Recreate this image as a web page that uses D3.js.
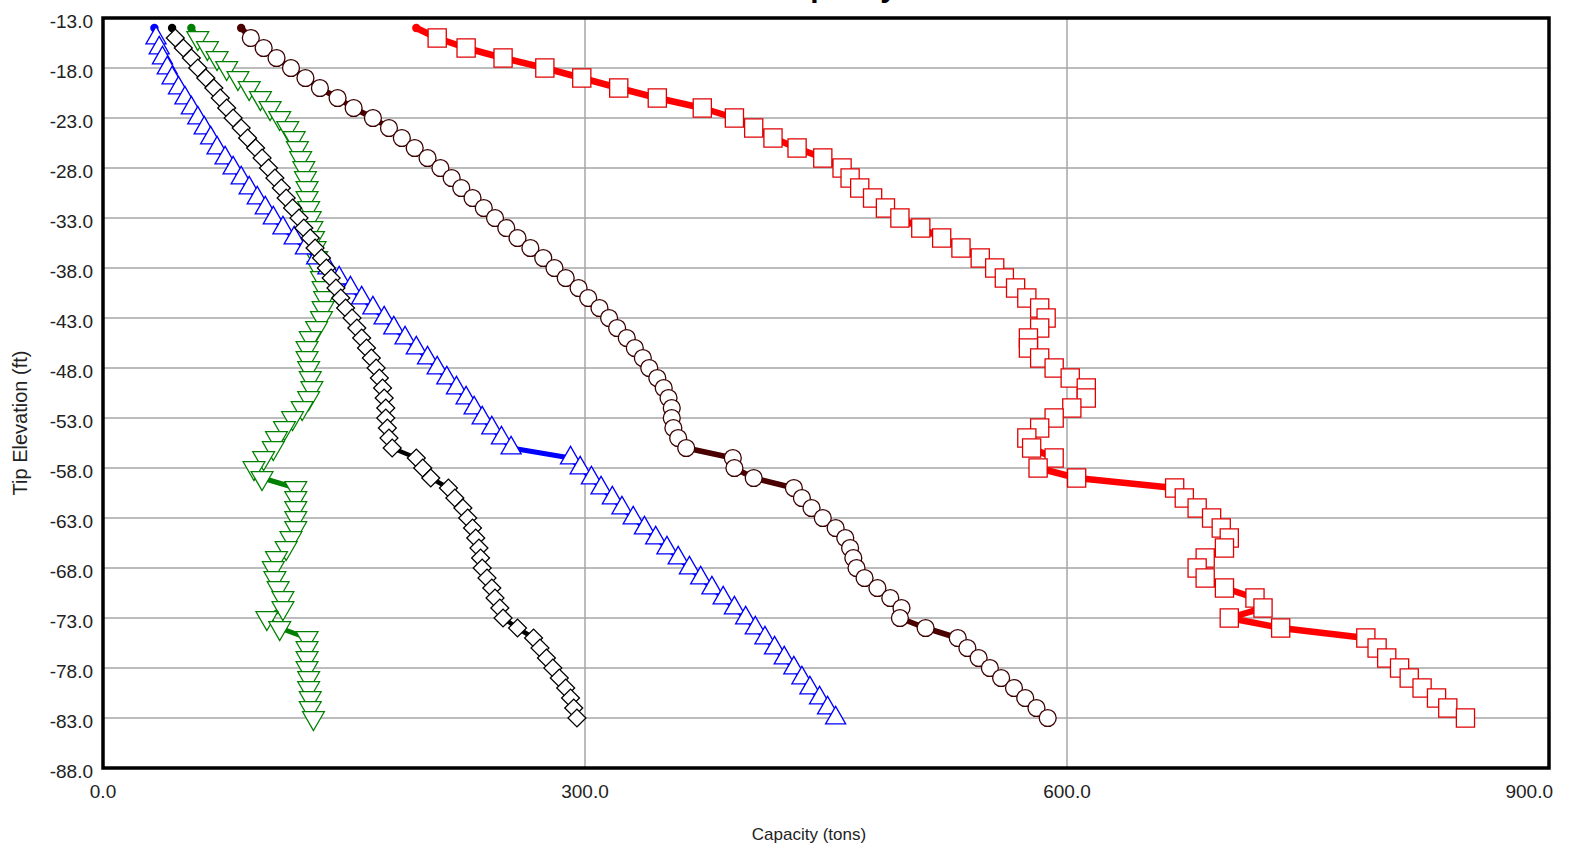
<!DOCTYPE html>
<html><head><meta charset="utf-8">
<script src="https://cdn.jsdelivr.net/npm/d3@7"></script>
<style>html,body{margin:0;padding:0;background:#fff;overflow:hidden}</style>
</head><body><svg id="chart" width="1581" height="845"></svg>
<script>
const titleText = "Ultimate Capacity Curves";
const xLabel = "Capacity (tons)";
const yLabel = "Tip Elevation (ft)";
const xTicks = [0, 300, 600, 900];
const yTicks = [-13, -18, -23, -28, -33, -38, -43, -48, -53, -58, -63, -68, -73, -78, -83, -88];

const elevations = [-14,-15,-16,-17,-18,-19,-20,-21,-22,-23,-24,-25,-26,-27,-28,-29,-30,-31,-32,-33,
  -34,-35,-36,-37,-38,-39,-40,-41,-42,-43,-44,-45,-46,-47,-48,-49,-50,-51,-52,-53,
  -54,-55,-56,-57,-58,-59,-60,-61,-62,-63,-64,-65,-66,-67,-68,-69,-70,-71,-72,-73,
  -74,-75,-76,-77,-78,-79,-80,-81,-82,-83];

const capBlue = [32,33,35,37,40,43,47,51,55,59,63,67,71,76,81,86,91,96,101,106,
  112,119,126,133,140,147,154,161,168,175,181,188,195,202,208,214,220,226,231,236,
  242,248,254,291,297,304,310,317,323,330,337,344,351,358,365,372,379,386,393,400,
  406,412,418,424,430,435,440,446,451,456];
const capBlack = [43,45,50,55,59,64,69,73,77,81,86,90,95,99,103,107,111,114,118,122,
  125,129,132,136,139,142,145,148,151,155,158,161,164,167,170,172,174,175,176,176,
  177,178,180,195,199,204,215,219,224,227,230,232,234,235,236,239,242,244,247,249,
  258,268,272,276,280,284,288,291,293,295];
const capGreen = [55,59,65,71,77,84,91,98,104,110,115,119,121,123,125,126,127,127,128,129,
  130,131,132,133,134,136,137,138,137,136,133,129,127,127,128,129,130,128,124,118,
  113,108,106,100,94,99,120,120,120,120,120,117,114,108,106,107,109,112,112,102,
  110,127,127,127,127,128,128,129,129,131];
const capMaroon = [86,92,100,108,117,126,135,146,156,168,178,186,194,202,210,217,223,230,237,244,
  251,258,266,274,281,288,296,302,309,315,320,326,331,336,340,345,349,352,354,354,
  355,358,363,392,393,405,430,435,441,448,456,462,465,467,469,474,482,490,497,496,
  512,532,538,545,552,559,567,574,581,588];
const capRed = [195,208,226,249,275,298,321,345,373,393,405,417,432,448,460,465,471,479,487,496,
  509,522,534,546,555,561,568,575,583,587,583,576,576,583,592,602,612,612,603,592,
  583,575,578,592,582,606,667,673,681,690,696,701,698,686,681,686,698,717,722,701,
  733,786,793,799,807,813,821,830,837,848];

const series = [
  {values: capGreen,  color: "#008000", line: "#008000", shape: "triDown", lw: 5},
  {values: capBlue,   color: "#0000ff", line: "#0000ff", shape: "triUp",   lw: 5},
  {values: capBlack,  color: "#000000", line: "#000000", shape: "diamond", lw: 4.5},
  {values: capMaroon, color: "#3c0000", line: "#4a0000", shape: "circle",  lw: 5.5},
  {values: capRed,    color: "#e00000", line: "#ff0000", shape: "square",  lw: 6.5}
];

const W = 1581, H = 845;
const plot = {left: 103, right: 1549, top: 18, bottom: 768};
const svg = d3.select("#chart");
const x = d3.scaleLinear().domain([0, 900]).range([plot.left, plot.right]);
const y = d3.scaleLinear().domain([-13, -88]).range([plot.top, plot.bottom]);
const font = "'Liberation Sans', Arial, sans-serif";

svg.append("rect").attr("width", W).attr("height", H).attr("fill", "#fff");

// gridlines
svg.append("g").selectAll("line.h").data(yTicks).join("line")
  .attr("x1", plot.left).attr("x2", plot.right)
  .attr("y1", d => y(d)).attr("y2", d => y(d))
  .attr("stroke", "#a6a6a6").attr("stroke-width", 1.5);
svg.append("g").selectAll("line.v").data(xTicks).join("line")
  .attr("y1", plot.top).attr("y2", plot.bottom)
  .attr("x1", d => x(d)).attr("x2", d => x(d))
  .attr("stroke", "#a6a6a6").attr("stroke-width", 1.5);

// tick labels
svg.append("g").selectAll("text").data(yTicks).join("text")
  .attr("x", 93).attr("y", d => y(d) + 9.5)
  .attr("text-anchor", "end").attr("font-family", font).attr("font-size", 19)
  .attr("fill", "#222").text(d => d.toFixed(1));
svg.append("g").selectAll("text").data(xTicks).join("text")
  .attr("x", (d, i) => i === xTicks.length - 1 ? x(d) + 4 : x(d))
  .attr("y", 798)
  .attr("text-anchor", (d, i) => i === xTicks.length - 1 ? "end" : "middle")
  .attr("font-family", font).attr("font-size", 19)
  .attr("fill", "#222").text(d => d.toFixed(1));

// axis titles
svg.append("text").attr("x", 809).attr("y", 840)
  .attr("text-anchor", "middle").attr("font-family", font).attr("font-size", 17)
  .attr("fill", "#222").text(xLabel);
svg.append("text").attr("transform", "translate(27,423) rotate(-90)")
  .attr("text-anchor", "middle").attr("font-family", font).attr("font-size", 20)
  .attr("fill", "#222").text(yLabel);

// title (mostly above the visible area, as in the reference)
svg.append("text").attr("x", (plot.left + plot.right) / 2).attr("y", -3)
  .attr("text-anchor", "middle").attr("font-family", font).attr("font-size", 30)
  .attr("font-weight", "bold").attr("fill", "#000").text(titleText);

const shapes = {
  triUp:   {type: d3.symbolTriangle, size: 175, rot: 0},
  triDown: {type: d3.symbolTriangle, size: 205, rot: 180},
  diamond: {type: d3.symbolSquare,   size: 160, rot: 45},
  circle:  {type: d3.symbolCircle,   size: 225, rot: 0},
  square:  {type: d3.symbolSquare,   size: 330, rot: 0}
};

const lineGen = d3.line().x(d => x(d.v)).y(d => y(d.e));

series.forEach(s => {
  const pts = s.values.map((v, i) => ({v, e: elevations[i]}));
  const g = svg.append("g");
  g.append("path").datum(pts).attr("d", lineGen)
    .attr("fill", "none").attr("stroke", s.line).attr("stroke-width", s.lw)
    .attr("stroke-linejoin", "round").attr("stroke-linecap", "round");
  g.append("circle").attr("cx", x(pts[0].v)).attr("cy", y(pts[0].e)).attr("r", 4.2)
    .attr("fill", s.line);
  const sh = shapes[s.shape];
  const sym = d3.symbol().type(sh.type).size(sh.size);
  g.selectAll("path.m").data(pts.slice(1)).join("path")
    .attr("d", sym)
    .attr("transform", d => `translate(${x(d.v)},${y(d.e)}) rotate(${sh.rot})`)
    .attr("fill", "#fff").attr("stroke", s.color).attr("stroke-width", 1.3);
});

// plot frame
svg.append("rect").attr("x", plot.left).attr("y", plot.top)
  .attr("width", plot.right - plot.left).attr("height", plot.bottom - plot.top)
  .attr("fill", "none").attr("stroke", "#000").attr("stroke-width", 3.5);
</script></body></html>
